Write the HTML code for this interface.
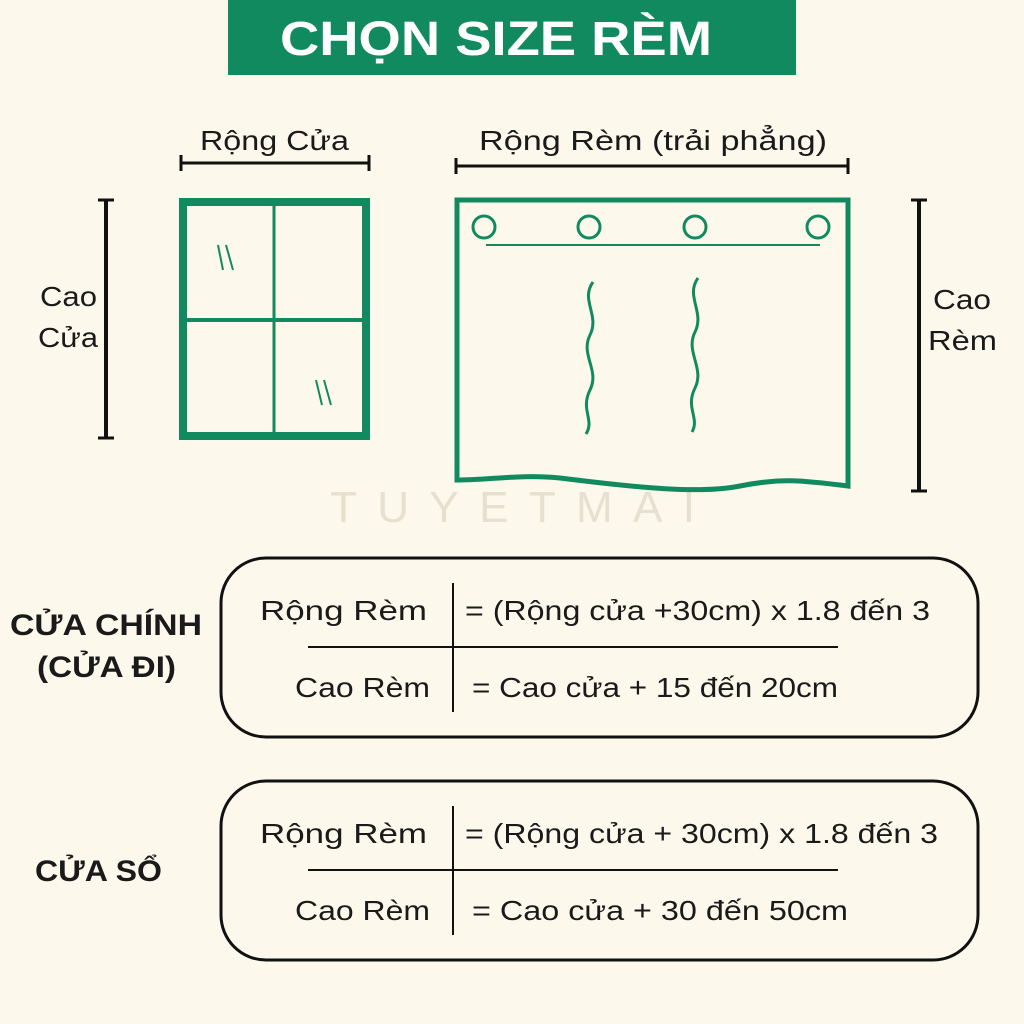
<!DOCTYPE html>
<html><head><meta charset="utf-8"><style>
html,body{margin:0;padding:0;background:#fdf8ec;}
svg{display:block}
text{font-family:"Liberation Sans","DejaVu Sans",sans-serif;fill:#1a1a1a}
</style></head><body>
<svg width="1024" height="1024" viewBox="0 0 1024 1024" xmlns="http://www.w3.org/2000/svg">
<rect width="1024" height="1024" fill="#fdf8ec"/>
<rect x="228" y="0" width="568" height="75" fill="#128a5f"/>
<text x="280" y="55" font-size="48" font-weight="bold" textLength="432" lengthAdjust="spacingAndGlyphs" style="fill:#fff">CHỌN SIZE RÈM</text>
<text x="330" y="522" font-size="44" textLength="365" lengthAdjust="spacing" style="fill:#e6e0d0">TUYETMAI</text>
<text x="200" y="150" font-size="28" textLength="149" lengthAdjust="spacingAndGlyphs">Rộng Cửa</text>
<line x1="181" y1="163" x2="369" y2="163" stroke="#111" stroke-width="3"/>
<line x1="181" y1="155" x2="181" y2="171" stroke="#111" stroke-width="3"/>
<line x1="369" y1="155" x2="369" y2="171" stroke="#111" stroke-width="3"/>
<line x1="106" y1="200" x2="106" y2="438" stroke="#111" stroke-width="4"/>
<line x1="98" y1="200" x2="114" y2="200" stroke="#111" stroke-width="3"/>
<line x1="98" y1="438" x2="114" y2="438" stroke="#111" stroke-width="3"/>
<text x="40" y="306" font-size="28" textLength="57" lengthAdjust="spacingAndGlyphs">Cao</text>
<text x="38" y="347" font-size="28" textLength="60" lengthAdjust="spacingAndGlyphs">Cửa</text>
<rect x="183" y="202" width="183" height="234" fill="none" stroke="#128a5f" stroke-width="8"/>
<line x1="274" y1="202" x2="274" y2="436" stroke="#128a5f" stroke-width="3"/>
<line x1="183" y1="320" x2="366" y2="320" stroke="#128a5f" stroke-width="4"/>
<line x1="218" y1="245" x2="223" y2="270" stroke="#128a5f" stroke-width="2"/>
<line x1="226" y1="245" x2="233" y2="270" stroke="#128a5f" stroke-width="2"/>
<line x1="316" y1="380" x2="322" y2="405" stroke="#128a5f" stroke-width="2"/>
<line x1="324" y1="380" x2="331" y2="405" stroke="#128a5f" stroke-width="2"/>
<text x="479" y="150" font-size="28" textLength="348" lengthAdjust="spacingAndGlyphs">Rộng Rèm (trải phẳng)</text>
<line x1="456" y1="166" x2="848" y2="166" stroke="#111" stroke-width="3"/>
<line x1="456" y1="158" x2="456" y2="174" stroke="#111" stroke-width="3"/>
<line x1="848" y1="158" x2="848" y2="174" stroke="#111" stroke-width="3"/>
<path d="M457 200 H848 V486 C800 480 780 478 740 486 C700 494 640 488 560 478 C520 474 490 480 457 480 Z" fill="none" stroke="#128a5f" stroke-width="5"/>
<line x1="486" y1="245" x2="820" y2="245" stroke="#128a5f" stroke-width="2"/>
<circle cx="484" cy="227" r="11" fill="none" stroke="#128a5f" stroke-width="3"/>
<circle cx="589" cy="227" r="11" fill="none" stroke="#128a5f" stroke-width="3"/>
<circle cx="695" cy="227" r="11" fill="none" stroke="#128a5f" stroke-width="3"/>
<circle cx="818" cy="227" r="11" fill="none" stroke="#128a5f" stroke-width="3"/>
<path d="M593 282 C580 300 600 315 590 335 C580 355 600 370 590 390 C580 410 595 420 586 434" fill="none" stroke="#128a5f" stroke-width="3"/>
<path d="M698 278 C685 296 705 312 695 332 C685 352 705 368 695 388 C685 408 700 418 692 432" fill="none" stroke="#128a5f" stroke-width="3"/>
<line x1="919" y1="200" x2="919" y2="491" stroke="#111" stroke-width="4"/>
<line x1="911" y1="200" x2="927" y2="200" stroke="#111" stroke-width="3"/>
<line x1="911" y1="491" x2="927" y2="491" stroke="#111" stroke-width="3"/>
<text x="933" y="309" font-size="28" textLength="58" lengthAdjust="spacingAndGlyphs">Cao</text>
<text x="928" y="350" font-size="28" textLength="69" lengthAdjust="spacingAndGlyphs">Rèm</text>
<rect x="221" y="558" width="757" height="179" rx="45" fill="none" stroke="#111" stroke-width="3"/>
<line x1="453" y1="583" x2="453" y2="712" stroke="#111" stroke-width="2"/>
<line x1="308" y1="647" x2="838" y2="647" stroke="#111" stroke-width="2"/>
<text x="260" y="620" font-size="28" textLength="167" lengthAdjust="spacingAndGlyphs">Rộng  Rèm</text>
<text x="465" y="620" font-size="28" textLength="465" lengthAdjust="spacingAndGlyphs">= (Rộng cửa +30cm) x 1.8 đến 3</text>
<text x="295" y="697" font-size="28" textLength="135" lengthAdjust="spacingAndGlyphs">Cao Rèm</text>
<text x="472" y="697" font-size="28" textLength="366" lengthAdjust="spacingAndGlyphs">= Cao cửa + 15 đến 20cm</text>
<text x="10" y="635" font-size="30" font-weight="bold" textLength="192" lengthAdjust="spacingAndGlyphs">CỬA CHÍNH</text>
<text x="37" y="677" font-size="30" font-weight="bold" textLength="139" lengthAdjust="spacingAndGlyphs">(CỬA ĐI)</text>
<rect x="221" y="781" width="757" height="179" rx="45" fill="none" stroke="#111" stroke-width="3"/>
<line x1="453" y1="806" x2="453" y2="935" stroke="#111" stroke-width="2"/>
<line x1="308" y1="870" x2="838" y2="870" stroke="#111" stroke-width="2"/>
<text x="260" y="843" font-size="28" textLength="167" lengthAdjust="spacingAndGlyphs">Rộng  Rèm</text>
<text x="465" y="843" font-size="28" textLength="473" lengthAdjust="spacingAndGlyphs">= (Rộng cửa + 30cm) x 1.8 đến 3</text>
<text x="295" y="920" font-size="28" textLength="135" lengthAdjust="spacingAndGlyphs">Cao Rèm</text>
<text x="472" y="920" font-size="28" textLength="376" lengthAdjust="spacingAndGlyphs">= Cao cửa + 30 đến 50cm</text>
<text x="35" y="881" font-size="30" font-weight="bold" textLength="127" lengthAdjust="spacingAndGlyphs">CỬA SỔ</text>
</svg>
</body></html>
